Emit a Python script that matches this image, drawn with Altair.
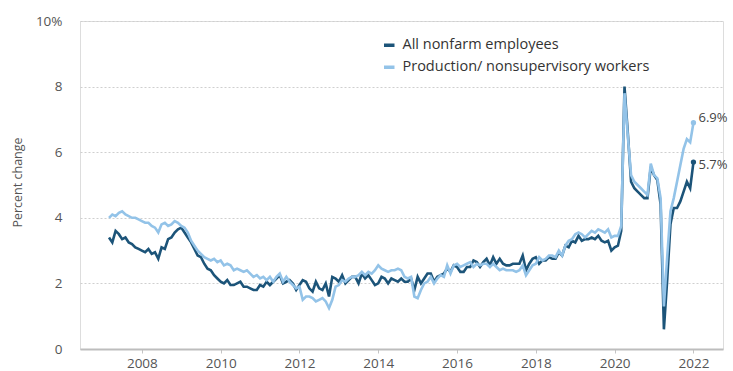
import altair as alt
import pandas as pd

# Monthly year-over-year % change in average hourly earnings, Mar 2007 - Jan 2022
all_nonfarm = [
    # 2007 (Mar-Dec)
    3.4, 3.25, 3.6, 3.5, 3.35, 3.4, 3.25, 3.2, 3.1, 3.05,
    # 2008
    3.0, 2.95, 3.05, 2.9, 2.95, 2.75, 3.1, 3.05, 3.35, 3.4, 3.55, 3.65,
    # 2009
    3.7, 3.55, 3.4, 3.25, 3.05, 2.85, 2.8, 2.6, 2.45, 2.4, 2.25, 2.15,
    # 2010
    2.05, 2.0, 2.1, 1.95, 1.95, 2.0, 2.05, 1.9, 1.9, 1.85, 1.8, 1.8,
    # 2011
    1.95, 1.9, 2.05, 1.95, 2.05, 2.15, 2.25, 2.0, 2.05, 2.1, 2.0, 1.8,
    # 2012
    1.95, 2.1, 2.05, 1.85, 1.75, 2.05, 1.85, 1.8, 2.0, 1.6, 2.2, 2.15,
    # 2013
    2.05, 2.25, 2.0, 2.1, 2.2, 2.2, 2.0, 2.3, 2.15, 2.25, 2.1, 1.95,
    # 2014
    2.0, 2.2, 2.15, 2.0, 2.15, 2.1, 2.05, 2.15, 2.05, 2.05, 2.15, 1.8,
    # 2015
    2.2, 2.0, 2.15, 2.3, 2.3, 2.05, 2.2, 2.25, 2.3, 2.45, 2.35, 2.55,
    # 2016
    2.5, 2.35, 2.35, 2.5, 2.5, 2.7, 2.65, 2.5, 2.65, 2.75, 2.55, 2.8,
    # 2017
    2.6, 2.75, 2.6, 2.55, 2.55, 2.6, 2.6, 2.6, 2.85, 2.4, 2.6, 2.75,
    # 2018
    2.8, 2.6, 2.7, 2.7, 2.8, 2.75, 2.75, 2.95, 2.85, 3.15, 3.1, 3.3,
    # 2019
    3.25, 3.45, 3.3, 3.35, 3.35, 3.4, 3.35, 3.45, 3.3, 3.25, 3.3, 3.0,
    # 2020
    3.1, 3.15, 3.6, 8.0, 6.6, 5.1, 4.9, 4.8, 4.7, 4.6, 4.6, 5.55,
    # 2021
    5.3, 5.15, 4.4, 0.6, 2.1, 3.8, 4.3, 4.3, 4.5, 4.8, 5.1, 4.9,
    # 2022 (Jan)
    5.7,
]

production = [
    # 2007 (Mar-Dec)
    4.0, 4.1, 4.05, 4.15, 4.2, 4.1, 4.05, 4.0, 4.0, 3.95,
    # 2008
    3.9, 3.85, 3.85, 3.75, 3.7, 3.55, 3.8, 3.85, 3.75, 3.8, 3.9, 3.85,
    # 2009
    3.75, 3.7, 3.55, 3.3, 3.15, 3.0, 2.9, 2.8, 2.75, 2.7, 2.75, 2.65,
    # 2010
    2.7, 2.55, 2.6, 2.55, 2.4, 2.45, 2.4, 2.35, 2.4, 2.3, 2.2, 2.25,
    # 2011
    2.15, 2.2, 2.1, 2.2, 2.05, 2.2, 2.3, 2.05, 2.2, 2.05, 1.95, 1.85,
    # 2012
    1.9, 1.5, 1.6, 1.6, 1.55, 1.45, 1.5, 1.55, 1.45, 1.25, 1.5, 1.9,
    # 2013
    1.95, 2.1, 2.05, 2.15, 2.2, 2.2, 2.25, 2.35, 2.25, 2.35, 2.3, 2.4,
    # 2014
    2.55, 2.45, 2.4, 2.35, 2.4, 2.4, 2.45, 2.4, 2.2, 2.15, 2.2, 1.6,
    # 2015
    1.55, 1.8, 2.0, 2.05, 2.2, 2.0, 2.15, 2.25, 2.2, 2.55, 2.3, 2.55,
    # 2016
    2.6, 2.5, 2.55, 2.6, 2.65, 2.5, 2.6, 2.55, 2.6, 2.6, 2.5, 2.6,
    # 2017
    2.5, 2.4, 2.45, 2.4, 2.4, 2.4, 2.35, 2.4, 2.55, 2.25, 2.4, 2.55,
    # 2018
    2.6, 2.8, 2.7, 2.75, 2.85, 2.85, 2.8, 3.0, 2.85, 3.15, 3.3, 3.35,
    # 2019
    3.5, 3.55, 3.5, 3.4, 3.5, 3.6, 3.55, 3.65, 3.6, 3.55, 3.65, 3.4,
    # 2020
    3.45, 3.45, 3.75, 7.8, 6.5, 5.3, 5.1, 5.0, 4.9, 4.8, 4.7, 5.65,
    # 2021
    5.3, 5.2, 4.6, 1.3, 2.8, 4.2, 4.6, 5.1, 5.6, 6.1, 6.4, 6.3,
    # 2022 (Jan)
    6.9,
]

series_names = ["All nonfarm employees", "Production/ nonsupervisory workers"]
series_colors = ["#1c5479", "#93c3e8"]
year_ticks = [2008, 2010, 2012, 2014, 2016, 2018, 2020, 2022]
y_ticks = [0, 2, 4, 6, 8, 10]

# time in fractional years, first observation March 2007
t = [2007 + (2 + i) / 12 for i in range(len(all_nonfarm))]

rows = []
for name, vals in zip(series_names, [all_nonfarm, production]):
    for ti, v in zip(t, vals):
        rows.append({"series": name, "t": ti, "value": v})
df = pd.DataFrame(rows)

end_df = pd.DataFrame({
    "series": series_names,
    "t": [t[-1], t[-1]],
    "value": [all_nonfarm[-1], production[-1]],
    "label": [f"{all_nonfarm[-1]}%", f"{production[-1]}%"],
})

FONT = "Open Sans"

x_enc = alt.X("t:Q",
              scale=alt.Scale(domain=[2006.43, 2022.75], nice=False, zero=False),
              axis=alt.Axis(values=year_ticks, format="d", grid=False, title=None,
                            tickSize=4, tickColor="#c4c4c4", domainColor="#bdbdbd",
                            domainWidth=2, labelFontSize=13.5, labelColor="#555555",
                            labelFont=FONT, labelPadding=3))
y_enc = alt.Y("value:Q",
              scale=alt.Scale(domain=[0, 10], nice=False),
              axis=alt.Axis(values=y_ticks, grid=True, gridDash=[2, 2], gridColor="#cfcfcf",
                            gridWidth=1, domain=False, ticks=False, tickSize=0,
                            labelPadding=18, labelFontSize=13.5, labelColor="#555555",
                            labelFont=FONT,
                            labelExpr="datum.value == 10 ? '10%' : datum.label",
                            title="Percent change", titleFont=FONT, titleFontSize=12.5,
                            titleFontWeight="normal", titleColor="#555555",
                            titleX=-63, titleY=161, titleAngle=270,
                            titleAlign="center", titleBaseline="middle"))
color_enc = alt.Color("series:N",
                      scale=alt.Scale(domain=series_names, range=series_colors),
                      legend=alt.Legend(title=None, orient="none", legendX=302, legendY=17,
                                        symbolType="stroke", symbolStrokeWidth=3.5,
                                        symbolSize=110, labelFont=FONT, labelFontSize=14.5,
                                        labelColor="#333333", labelLimit=400,
                                        rowPadding=6, labelOffset=6))

base = alt.Chart(df)
dark_line = base.transform_filter(alt.datum.series == series_names[0]).mark_line(
    strokeWidth=2.6).encode(x=x_enc, y=y_enc, color=color_enc)
light_line = base.transform_filter(alt.datum.series == series_names[1]).mark_line(
    strokeWidth=2.6).encode(x=x_enc, y=y_enc, color=color_enc)

end_base = alt.Chart(end_df)
end_points = end_base.mark_circle(size=28, opacity=1).encode(
    x="t:Q", y="value:Q",
    color=alt.Color("series:N", scale=alt.Scale(domain=series_names, range=series_colors),
                    legend=None))
label_dark = end_base.transform_filter(alt.datum.series == series_names[0]).mark_text(
    align="left", baseline="middle", dx=5, dy=3, font=FONT, fontSize=13, color="#444444"
).encode(x="t:Q", y="value:Q", text="label:N")
label_light = end_base.transform_filter(alt.datum.series == series_names[1]).mark_text(
    align="left", baseline="middle", dx=5, dy=-5, font=FONT, fontSize=13, color="#444444"
).encode(x="t:Q", y="value:Q", text="label:N")

chart = alt.layer(dark_line, light_line, end_points, label_dark, label_light).properties(
    width=643, height=328,
    autosize=alt.AutoSizeParams(type="none"),
    padding={"left": 80, "top": 21, "right": 10, "bottom": 22},
).configure_view(stroke=None).configure(background="white")

chart.save("out.html", embed_options={"renderer": "svg", "actions": False})
